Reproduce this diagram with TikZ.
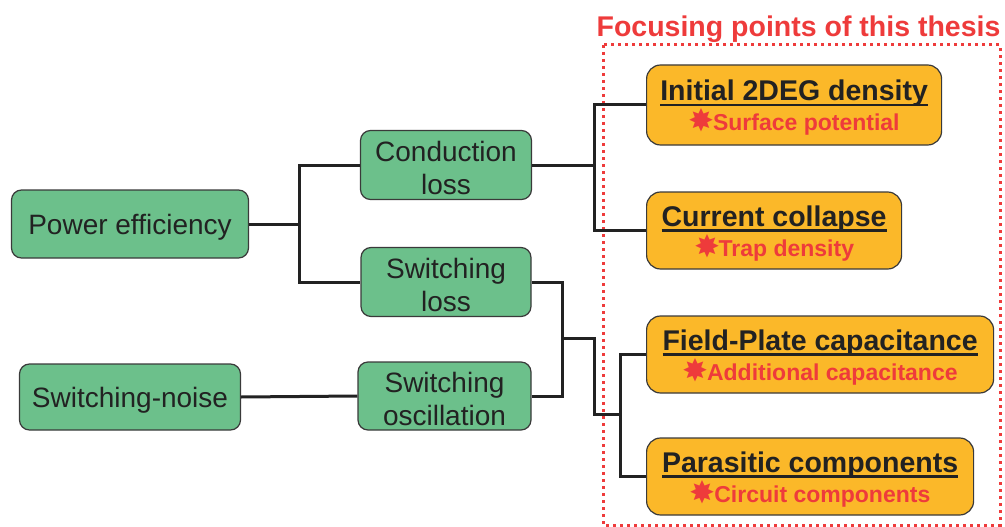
\documentclass[tikz,border=0pt]{standalone}
\usepackage{fontspec}
\setmainfont{Liberation Sans}
\newfontfamily\symfont{DejaVu Sans}
\usetikzlibrary{positioning}
\definecolor{LeafGreen}{HTML}{6CC08B}
\definecolor{FocusOrange}{HTML}{FBB829}
\definecolor{FocusRed}{HTML}{EE3B3B}
\definecolor{EdgeGray}{HTML}{3A3A3A}
\definecolor{InkGray}{HTML}{222222}
\newcommand{\heavyul}[1]{\setbox0\hbox{#1}\leavevmode\rlap{\rule[-5.8pt]{\wd0}{2.5pt}}\box0}
\newcommand{\focusnote}[1]{{\color{FocusRed}\fontsize{23}{30}\selectfont{\symfont\fontsize{31}{30}\selectfont\raisebox{-1pt}{✸}}\kern-1.5pt#1}}

\begin{document}
\begin{tikzpicture}[x=1pt,y=-1pt,
  lift/.style={execute at begin node={\rule{0pt}{#1}}},
  greenbox/.style={draw=EdgeGray,line width=1.2pt,fill=LeafGreen,rounded corners=10pt,inner sep=0pt,text=InkGray,font=\fontsize{28}{33}\selectfont,align=center,lift=26.5pt},
  twoline/.style={lift=59pt},
  orangebox/.style={draw=EdgeGray,line width=1.2pt,fill=FocusOrange,rounded corners=14pt,inner sep=0pt,anchor=west,text=InkGray,font=\fontsize{28.5}{30}\selectfont\bfseries,align=center,lift=56pt},
  link/.style={line width=3pt,InkGray}]
  \useasboundingbox (0,0) rectangle (1005,527);
  % left tree
  \node[greenbox,minimum width=237pt,minimum height=68pt] (power) at (130,224) {Power efficiency};
  \node[greenbox,twoline,minimum width=171pt,minimum height=69pt] (cond) at (446,165) {Conduction\\loss};
  \node[greenbox,twoline,minimum width=170pt,minimum height=69pt] (swloss) at (446,282) {Switching\\loss};
  \node[greenbox,minimum width=221pt,minimum height=66pt] (noise) at (130,397) {Switching-noise};
  \node[greenbox,twoline,minimum width=173pt,minimum height=68pt] (osc) at (444.5,396) {Switching\\oscillation};
  % focusing points
  \node[text=FocusRed,font=\fontsize{28.5}{30}\selectfont\bfseries] (title) at (798.5,29) {Focusing points of this thesis};
  \draw[FocusRed,line width=3pt,dash pattern=on 3pt off 4pt] (603,45) rectangle (1000,525);
  \node[orangebox,minimum width=295pt,minimum height=80pt] (init) at (646,105) {\heavyul{Initial 2DEG density}\\\focusnote{Surface potential}};
  \node[orangebox,minimum width=255pt,minimum height=77pt] (collapse) at (646,230.5) {\heavyul{Current collapse}\\\focusnote{Trap density}};
  \node[orangebox,minimum width=347pt,minimum height=77pt] (fieldplate) at (646,354.5) {\heavyul{Field-Plate capacitance}\\\focusnote{Additional capacitance}};
  \node[orangebox,minimum width=327pt,minimum height=77pt] (parasitic) at (646,476.5) {\heavyul{Parasitic components}\\\focusnote{Circuit components}};
  % connectors
  \coordinate (powerfork) at (299,224);
  \coordinate (condfork) at (594,165);
  \coordinate (swfork) at (562,338);
  \coordinate (capfork) at (620,414);
  \draw[link] (power.east) -- (powerfork) |- (cond.west);
  \draw[link] (powerfork) |- (swloss.west);
  \draw[link] (cond.east) -- (condfork) |- (init.west);
  \draw[link] (condfork) |- (collapse.west);
  \draw[link] (swloss.east) -| (swfork);
  \draw[link] (osc.east) -| (swfork);
  \draw[link] (swfork) -- ++(32,0) |- (capfork);
  \draw[link] (capfork) |- (fieldplate.west);
  \draw[link] (capfork) |- (parasitic.west);
  \draw[link] (noise.east) -- (osc.west);
\end{tikzpicture}
\end{document}
